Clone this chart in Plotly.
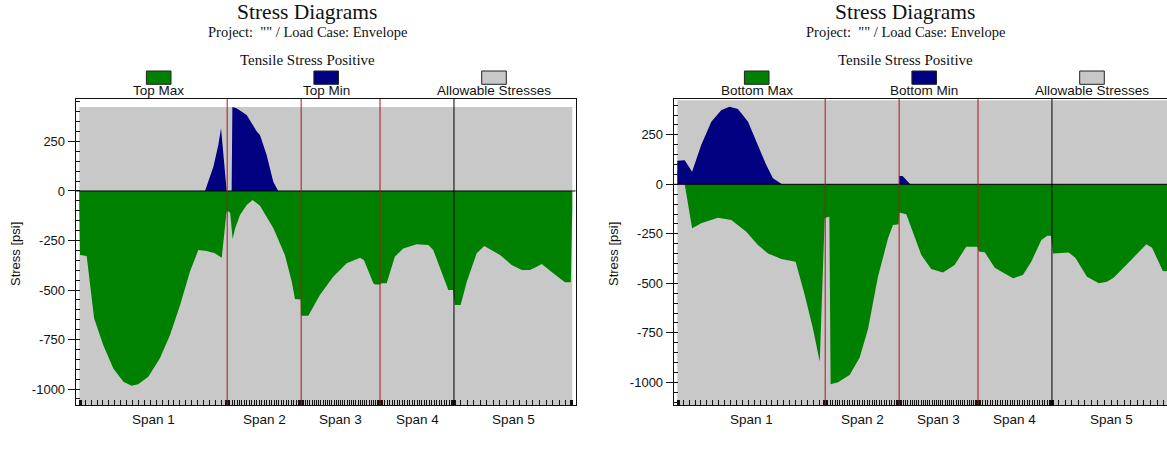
import numpy as np
import plotly.graph_objects as go

# ---------------- data ----------------
span_names = ["Span 1", "Span 2", "Span 3", "Span 4", "Span 5"]
span_bounds = [0, 60, 90, 122, 152, 200]          # ft
support_lines = [60, 90, 122, 152]
support_line_colors = ["#a81818", "#a81818", "#a81818", "#000000"]
tick_divisions = [25, 30, 36, 30, 18]

allow_x = [0, 200]
allow_tension = [424, 424]
allow_compression = [-2250, -2250]

# Left chart: top fibre
top_max_x = [0, 0.3, 3.0, 6.0, 9.7, 13.8, 17.9, 21.2, 23.9, 28.0, 32.7, 36.8, 40.9, 44.9,
             48.3, 51.7, 55.0, 57.8, 59.7, 60.0, 61.2, 62.2, 63.2, 65.2, 67.9, 70.3, 73.3,
             78.8, 83.4, 86.2, 87.5, 89.8, 90.0, 92.9, 97.6, 103.0, 108.5, 113.9, 115.5,
             119.3, 120.0, 122.0, 122.7, 124.7, 128.0, 131.4, 136.9, 141.6, 143.6, 147.0,
             149.7, 151.7, 152.3, 154.7, 157.2, 161.2, 164.3, 170.7, 175.4, 179.5, 182.8,
             185.6, 187.6, 192.3, 197.0, 199.4, 199.7, 200.0]
top_max_y = [-86, -323, -328, -643, -778, -896, -963, -983, -976, -938, -845, -727, -576, -407,
             -298, -303, -315, -337, -110, -100, -110, -242, -189, -121, -71, -45, -75,
             -189, -323, -458, -545, -548, -630, -630, -525, -433, -365, -337, -350,
             -466, -472, -472, -466, -466, -332, -290, -269, -273, -298, -407,
             -500, -500, -576, -576, -458, -315, -278, -323, -374, -399, -399,
             -382, -369, -416, -461, -461, -330, -90]

top_min_x = [0, 51.0, 54.4, 56.4, 57.5, 59.8, 61.8, 62.1, 63.8, 67.9, 72.0, 73.3, 76.0, 78.7,
             80.7, 200.0]
top_min_y = [0, 0, 123, 232, 317, 0, 0, 424, 418, 384, 300, 283, 182, 47,
             0, 0]

# Right chart: bottom fibre
bot_max_x = [0, 3.0, 6.0, 9.7, 16.5, 21.9, 28.0, 32.7, 36.8, 42.2, 48.0, 51.7, 55.0, 57.8,
             59.8, 61.7, 62.2, 65.2, 69.9, 74.0, 77.4, 81.4, 85.5, 87.5, 89.8, 90.0, 92.9,
             95.6, 99.0, 103.0, 107.8, 112.5, 117.2, 121.7, 122.3, 124.7, 128.8, 131.4,
             136.2, 140.2, 143.6, 147.7, 150.1, 151.7, 152.4, 158.8, 161.5, 166.2, 171.0,
             174.3, 177.0, 183.8, 190.3, 192.6, 197.0, 199.5]
bot_max_y = [0, 0, -222, -197, -169, -180, -239, -307, -349, -377, -391, -559, -727, -896,
             -170, -164, -1010, -1000, -963, -875, -730, -467, -273, -206, -202, -143, -151,
             -239, -357, -428, -445, -408, -315, -315, -340, -343, -421, -441,
             -475, -458, -391, -281, -260, -260, -350, -345, -371, -467, -500,
             -492, -472, -386, -303, -320, -438, -440]

bot_min_x = [0, 3.0, 6.0, 9.7, 13.8, 17.9, 21.2, 24.6, 28.7, 32.7, 36.1, 38.8, 41.5, 42.5,
             89.99, 90.0, 91.4, 94.5, 199.5]
bot_min_y = [119, 121, 64, 198, 316, 375, 392, 380, 316, 198, 97, 30, 5, 0,
             0, 42, 42, 0, 0]

y_tick_vals = [250, 0, -250, -500, -750, -1000]
y_tick_text = ["250", "0", "-250", "-500", "-750", "-1000"]

# ---------------- layout helpers ----------------
W, H = 1167, 450
GREEN, NAVY, GRAY = "#008000", "#000080", "#c8c8c8"
SANS = "Liberation Sans"
SERIF = "Liberation Serif"
INK = "#111111"

def px(x):
    return x / W

def py(y):
    return 1 - y / H

# analysis-point tick marks along each span
xticks = []
for a, b, n in zip(span_bounds[:-1], span_bounds[1:], tick_divisions):
    xticks.extend(np.linspace(a, b, n + 1).tolist())
    xticks.extend([a + 0.35, a + 0.7, b - 0.35, b - 0.7])
xticks = sorted(set(round(v, 3) for v in xticks))

charts = [
    dict(xa="x", ya="y", dom=[75.7, 575.5], xr=[-1.46, 201.3], yr=[-1080.8, 464.6],
         series=[("Top Max", top_max_x, top_max_y, GREEN), ("Top Min", top_min_x, top_min_y, NAVY)],
         shift=0, mirror_y=True),
    dict(xa="x2", ya="y2", dom=[673.7, 1167], xr=[-1.46, 198.67], yr=[-1114.6, 430.8],
         series=[("Bottom Max", bot_max_x, bot_max_y, GREEN), ("Bottom Min", bot_min_x, bot_min_y, NAVY)],
         shift=598, mirror_y=False),
]

fig = go.Figure()
shapes = []
annotations = []
layout_axes = {}

for i, c in enumerate(charts):
    xa, ya = c["xa"], c["ya"]
    # allowable stresses (gray)
    for yy in (allow_tension, allow_compression):
        fig.add_trace(go.Scatter(x=allow_x, y=yy, xaxis=xa, yaxis=ya, mode="lines",
                                 fill="tozeroy", fillcolor=GRAY, line=dict(width=0, color=GRAY),
                                 showlegend=False, hoverinfo="skip"))
    for name, sx, sy, col in c["series"]:
        fig.add_trace(go.Scatter(x=sx, y=sy, xaxis=xa, yaxis=ya, mode="lines", name=name,
                                 fill="tozeroy", fillcolor=col, line=dict(width=0, color=col),
                                 showlegend=False))

    sfx = "" if i == 0 else "2"
    layout_axes["xaxis" + sfx] = dict(
        domain=[px(c["dom"][0]), min(1.0, px(c["dom"][1]))], range=c["xr"], anchor=ya,
        showgrid=False, zeroline=False, showline=True, linecolor=INK, linewidth=1, mirror=True,
        tickmode="array", tickvals=xticks, ticks="inside", ticklen=5, tickwidth=1,
        tickcolor=INK, showticklabels=False, fixedrange=True)
    layout_axes["yaxis" + sfx] = dict(
        domain=[py(405), py(99)], range=c["yr"], anchor=xa,
        showgrid=False, zeroline=False, showline=True, linecolor=INK, linewidth=1,
        mirror=c["mirror_y"], tickmode="array", tickvals=y_tick_vals, ticktext=y_tick_text,
        ticks="outside", ticklen=7, tickwidth=1, tickcolor=INK,
        tickfont=dict(family=SANS, size=13, color=INK),
        minor=dict(tickmode="linear", tick0=0, dtick=50, ticks="inside", ticklen=4,
                   tickwidth=1, tickcolor=INK, showgrid=False),
        fixedrange=True)

    # zero line and support lines
    shapes.append(dict(type="line", xref=xa + " domain", x0=0, x1=1, yref=ya, y0=0, y1=0,
                       line=dict(color="#000000", width=1), layer="above"))
    for sx_, scol in zip(support_lines, support_line_colors):
        shapes.append(dict(type="line", xref=xa, x0=sx_, x1=sx_, yref=ya + " domain", y0=0, y1=1,
                           line=dict(color=scol, width=1), layer="above"))

    # span labels
    for nm, a, b in zip(span_names, span_bounds[:-1], span_bounds[1:]):
        annotations.append(dict(text=nm, xref=xa, x=(a + b) / 2, yref="paper", y=py(419.5),
                                showarrow=False, xanchor="center", yanchor="middle",
                                font=dict(family=SANS, size=13.5, color=INK)))

    s = c["shift"]
    annotations += [
        dict(text="Stress Diagrams", x=px(307 + s), y=py(12), xref="paper", yref="paper",
             showarrow=False, xanchor="center", yanchor="middle",
             font=dict(family=SERIF, size=21.5, color=INK)),
        dict(text='Project:  "" / Load Case: Envelope', x=px(307 + s), y=py(32), xref="paper",
             yref="paper", showarrow=False, xanchor="center", yanchor="middle",
             font=dict(family=SERIF, size=14.5, color=INK)),
        dict(text="Tensile Stress Positive", x=px(307 + s), y=py(59.5), xref="paper", yref="paper",
             showarrow=False, xanchor="center", yanchor="middle",
             font=dict(family=SERIF, size=15, color=INK)),
        dict(text="Stress [psi]", x=px(15 + s), y=py(254), xref="paper", yref="paper",
             showarrow=False, textangle=-90, xanchor="center", yanchor="middle",
             font=dict(family=SANS, size=13, color=INK)),
    ]
    # legend boxes + labels
    leg_names = [c["series"][0][0], c["series"][1][0], "Allowable Stresses"]
    leg_cols = [GREEN, NAVY, GRAY]
    for cx, nm, col in zip([158.7, 326.2, 494.0], leg_names, leg_cols):
        cx = cx + s
        shapes.append(dict(type="rect", xref="paper", yref="paper",
                           x0=px(cx - 12.3), x1=px(cx + 12.3), y0=py(84.3), y1=py(71),
                           fillcolor=col, line=dict(color="#222222", width=1)))
        annotations.append(dict(text=nm, x=px(cx), y=py(91), xref="paper", yref="paper",
                                showarrow=False, xanchor="center", yanchor="middle",
                                font=dict(family=SANS, size=13.5, color=INK)))

fig.update_layout(
    width=W, height=H, autosize=False,
    margin=dict(l=0, r=0, t=0, b=0, pad=0),
    paper_bgcolor="white", plot_bgcolor="white",
    showlegend=False, shapes=shapes, annotations=annotations,
    **layout_axes,
)

fig.write_html("out.html", config={"displayModeBar": False},
               post_script="document.body.style.margin='0';document.body.style.overflow='hidden';")
